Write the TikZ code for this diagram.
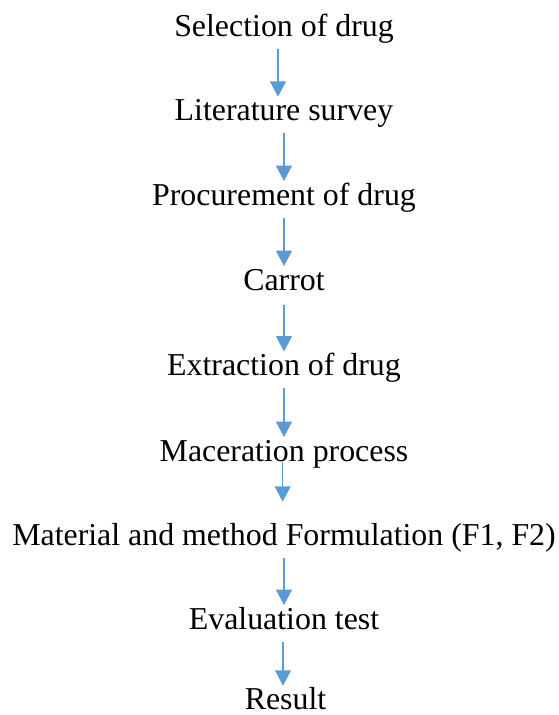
\documentclass[tikz,border=0pt]{standalone}
\usepackage{fontspec}
\setmainfont{Liberation Serif}
\usepackage{tikz}
\usetikzlibrary{arrows.meta}
\definecolor{flowblue}{RGB}{91,155,213}
\tikzset{
  stepnode/.style={
    inner sep=0pt, anchor=base, text height=16.4pt, text depth=5.2pt,
    font=\fontsize{23.9pt}{28pt}\selectfont
  },
  arr/.style={-{Triangle[length=11.5pt,width=12pt]}, draw=flowblue, line width=1pt,
    shorten <=4pt, shorten >=1.4pt}
}
\begin{document}
\begin{tikzpicture}[x=0.75pt,y=-0.75pt]
  \useasboundingbox (0,0) rectangle (558,715);
  \node[stepnode] (sel) at (284,36.7) {Selection of drug};
  \node[stepnode] (lit) at (284,120.7) {Literature survey};
  \node[stepnode] (proc) at (284,205) {Procurement of drug};
  \node[stepnode] (carrot) at (284,290) {Carrot};
  \node[stepnode] (extr) at (284,375.5) {Extraction of drug};
  \node[stepnode] (mac) at (284,461) {Maceration process};
  \node[stepnode] (mat) at (284,545) {Material and method Formulation (F1, F2)};
  \node[stepnode] (evalt) at (284,629) {Evaluation test};
  \node[stepnode, text depth=0pt] (res) at (285.5,709) {Result};
  % arrows
  \draw[arr] ([xshift=-4.5pt]sel.south) -- ([xshift=-4.5pt]lit.north);
  \foreach \a/\b in {lit/proc, proc/carrot, extr/mac, mat/evalt} {
    \draw[arr] (\a.south) -- (\b.north);
  }
  \draw[arr] ([yshift=-1.5pt]carrot.south) -- (extr.north);
  \draw[arr] ([xshift=-1pt,yshift=8.6pt]mac.south) -- ([xshift=-1pt,yshift=14.5pt]mat.north);
  \draw[arr] ([xshift=-0.75pt]evalt.south) -- ([xshift=-1.875pt,yshift=-0.5pt]res.north);
\end{tikzpicture}
\end{document}
